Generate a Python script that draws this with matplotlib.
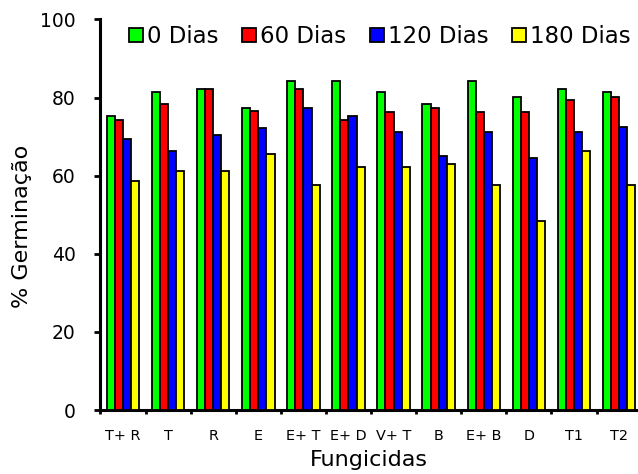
import matplotlib
matplotlib.use("Agg")
import matplotlib.pyplot as plt
import numpy as np

plt.rcParams['font.family'] = ['DejaVu Sans']

categories = ["T+ R", "T", "R", "E", "E+ T", "E+ D", "V+ T", "B", "E+ B", "D", "T1", "T2"]
series_names = ["0 Dias", "60 Dias", "120 Dias", "180 Dias"]
dias0 = [75.3, 81.3, 82.3, 77.2, 84.2, 84.2, 81.3, 78.3, 84.2, 80.1, 82.3, 81.3]
dias60 = [74.2, 78.3, 82.3, 76.5, 82.3, 74.2, 76.4, 77.2, 76.4, 76.4, 79.4, 80.1]
dias120 = [69.3, 66.4, 70.5, 72.3, 77.2, 75.3, 71.2, 65.1, 71.2, 64.4, 71.2, 72.4]
dias180 = [58.7, 61.2, 61.2, 65.5, 57.5, 62.1, 62.1, 63.1, 57.5, 48.5, 66.4, 57.5]
colors = ["#00FF00", "#FF0000", "#0000FF", "#FFFF00"]
yticks = [0, 20, 40, 60, 80, 100]

series = [dias0, dias60, dias120, dias180]

fig = plt.figure(figsize=(6.38, 4.74), dpi=100)
ax = fig.add_axes([0.1575, 0.135, 0.8425, 0.824])

x = np.arange(len(categories))
w = 0.18
for i, (vals, name, col) in enumerate(zip(series, series_names, colors)):
    ax.bar(x + (i - 1.5) * w, vals, width=w, color=col, edgecolor="black",
           linewidth=1.3, label=name, zorder=3)

ax.set_xlim(-0.5, 11.42)
ax.set_ylim(0, 100)
ax.set_yticks(yticks)
ax.set_yticklabels([str(v) for v in yticks], fontsize=13.5)
ax.tick_params(axis='y', direction='out', length=4, width=2, pad=14)

ax.set_xticks(np.arange(-0.5, len(categories) - 0.5, 1.0))
ax.set_xticklabels([])
ax.tick_params(axis='x', which='major', direction='out', length=3, width=2)
ax.set_xticks(x, minor=True)
ax.set_xticklabels(categories, minor=True, fontsize=10.4)
ax.tick_params(axis='x', which='minor', length=0, pad=14)

for s in ['top', 'right']:
    ax.spines[s].set_visible(False)
ax.spines['left'].set_linewidth(2.2)
ax.spines['bottom'].set_linewidth(2.2)

ax.set_xlabel("Fungicidas", fontsize=16, labelpad=5)
ax.set_ylabel("% Germinação", fontsize=16)
ax.yaxis.set_label_coords(-0.128, 0.47)

leg = fig.legend(loc='upper left', bbox_to_anchor=(129 / 638, 1 - 25 / 474),
                 bbox_transform=fig.transFigure, ncol=4, frameon=False,
                 fontsize=16.5, handlelength=0.6, handleheight=0.6, handletextpad=0.17,
                 columnspacing=1.05, borderaxespad=0, borderpad=0)

fig.savefig("out.png", dpi=100)
